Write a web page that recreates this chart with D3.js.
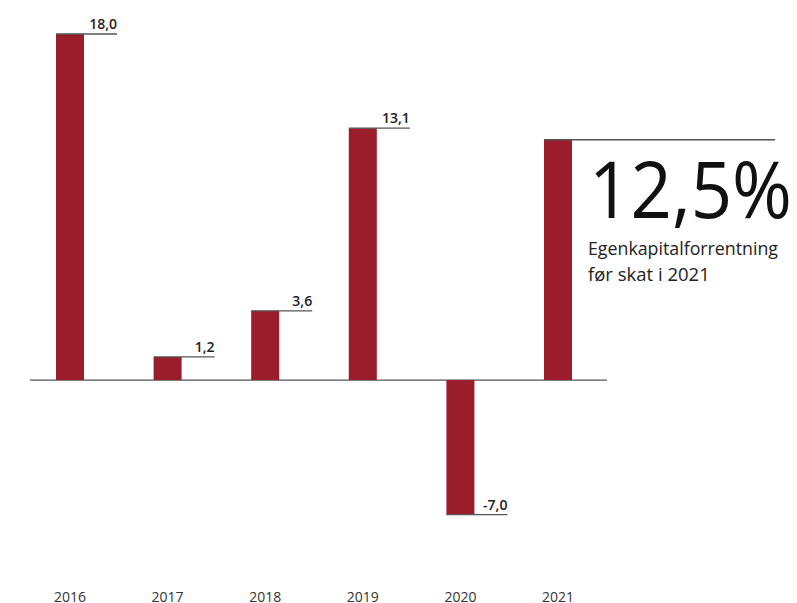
<!DOCTYPE html>
<html><head><meta charset="utf-8">
<script src="https://cdn.jsdelivr.net/npm/d3@7"></script>
<style>body{margin:0;background:#fff}svg{display:block}</style>
</head><body>
<script>
const years = ["2016","2017","2018","2019","2020","2021"];
const values = [18.0, 1.2, 3.6, 13.1, -7.0, 12.5];
const labels = ["18,0","1,2","3,6","13,1","-7,0",""];
const bigText = "12,5%";
const subText = ["Egenkapitalforrentning","før skat i 2021"];

const W = 797, H = 603;
const svg = d3.select("body").append("svg").attr("width", W).attr("height", H);
const x = d3.scalePoint().domain(years).range([70, 558]);
const bw = 28;
const y = d3.scaleLinear().domain([-7, 18]).range([514.6, 34]);
const red = "#9b1c2b", lineC = "#555";

svg.append("line").attr("x1", 30).attr("x2", 607).attr("y1", y(0)).attr("y2", y(0))
  .attr("stroke", lineC).attr("stroke-width", 1.3);

svg.selectAll("rect.bar").data(values).join("rect").attr("class","bar")
  .attr("x", (d,i)=>x(years[i]) - bw/2).attr("width", bw)
  .attr("y", d=>y(Math.max(0,d))).attr("height", d=>Math.abs(y(d)-y(0)))
  .attr("fill", red);

values.forEach((v,i)=>{
  const x0 = x(years[i]) - bw/2;
  const ly = y(v);
  const x1 = i===5 ? 775 : x0 + bw + 33;
  svg.append("line").attr("x1", x0).attr("x2", x1).attr("y1", ly).attr("y2", ly)
    .attr("stroke", lineC).attr("stroke-width", 1.3);
  if (labels[i]) {
    svg.append("text").attr("x", x1).attr("y", ly - 5).attr("text-anchor","end")
      .attr("font-family","Open Sans").attr("font-weight",600).attr("font-size",14)
      .attr("fill","#222").text(labels[i]);
  }
});

svg.selectAll("text.yr").data(years).join("text").attr("class","yr")
  .attr("x", d=>x(d)).attr("y", 602)
  .attr("text-anchor","middle").attr("font-family","Open Sans").attr("font-size",14)
  .attr("fill","#333").text(d=>d);

svg.append("text").attr("x", 589).attr("y", 218).attr("font-family","Open Sans")
  .attr("font-weight",400).attr("font-size",78).attr("fill","#111")
  .attr("textLength",203).attr("lengthAdjust","spacingAndGlyphs").text(bigText);
subText.forEach((t,i)=>{
  svg.append("text").attr("x", 588).attr("y", 255 + i*26).attr("font-family","Open Sans")
    .attr("font-size",18.5).attr("fill","#222")
    .attr("textLength", i===0?190:null).attr("lengthAdjust","spacingAndGlyphs").text(t);
});
</script>
</body></html>
